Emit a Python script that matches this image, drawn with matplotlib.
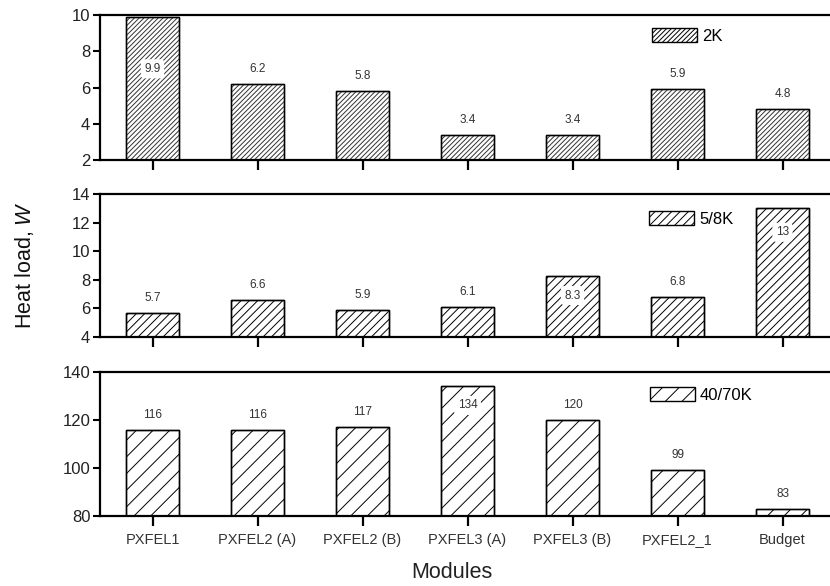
import matplotlib
matplotlib.use("Agg")
import matplotlib.pyplot as plt
from matplotlib.patches import Patch

plt.rcParams["font.family"] = ["Liberation Sans", "DejaVu Sans"]
plt.rcParams["mathtext.fontset"] = "custom"
plt.rcParams["mathtext.it"] = "Liberation Sans:italic"
plt.rcParams["mathtext.rm"] = "Liberation Sans"
plt.rcParams["hatch.linewidth"] = 0.7

# ---- data ----
modules = ["PXFEL1", "PXFEL2 (A)", "PXFEL2 (B)", "PXFEL3 (A)",
           "PXFEL3 (B)", "PXFEL2_1", "Budget"]
load_2k = [9.9, 6.2, 5.8, 3.4, 3.4, 5.9, 4.8]
load_5_8k = [5.7, 6.6, 5.9, 6.1, 8.3, 6.8, 13]
load_40_70k = [116, 116, 117, 134, 120, 99, 83]
labels_2k = ["9.9", "6.2", "5.8", "3.4", "3.4", "5.9", "4.8"]
labels_5_8k = ["5.7", "6.6", "5.9", "6.1", "8.3", "6.8", "13"]
labels_40_70k = ["116", "116", "117", "134", "120", "99", "83"]
series_names = ["2K", "5/8K", "40/70K"]
y_ticks = [[2, 4, 6, 8, 10], [4, 6, 8, 10, 12, 14], [80, 100, 120, 140]]

# ---- layout / style ----
W, H = 830, 586
panels = [  # (top px, bottom px)
    (15, 160), (194, 337), (372, 516)]
hatches = ["///////", "////", "//"]
hatch_colors = ["#333333", "black", "black"]
ylims = [(2, 10), (4, 14), (80, 140)]
# label offsets in pixels from bar top (positive = above)
label_offsets = [
    [-52, 15, 15, 15, 15, 15, 15],
    [15, 15, 15, 15, -20, 15, -24],
    [15, 15, 15, -19, 15, 15, 15],
]
legend_anchor = [(652, 36), (649, 219), (650, 395)]

fig = plt.figure(figsize=(W / 100, H / 100), dpi=100)
left_px, right_px = 100, 835

all_values = [load_2k, load_5_8k, load_40_70k]
all_labels = [labels_2k, labels_5_8k, labels_40_70k]
x = list(range(len(modules)))

for i, (top, bot) in enumerate(panels):
    ax = fig.add_axes([left_px / W, 1 - bot / H,
                       (right_px - left_px) / W, (bot - top) / H])
    ymin, ymax = ylims[i]
    vals = all_values[i]
    bars = ax.bar(x, [v - ymin for v in vals], bottom=ymin, width=0.5,
                  color="white", edgecolor=hatch_colors[i], linewidth=1.0,
                  hatch=hatches[i], zorder=2)
    # outline drawn separately so the hatch colour can differ from it
    ax.bar(x, [v - ymin for v in vals], bottom=ymin, width=0.5,
           fill=False, edgecolor="black", linewidth=1.0, zorder=3)
    ax.set_xlim(-0.5, 6.5)
    ax.set_ylim(ymin, ymax)
    ax.set_yticks(y_ticks[i])
    ax.set_xticks(x)
    for s in ["left", "bottom", "top"]:
        ax.spines[s].set_linewidth(1.6)
    ax.spines["right"].set_visible(False)
    ax.tick_params(axis="y", direction="out", length=5, width=1.5,
                   labelsize=12, labelcolor="#222222", pad=2)
    ax.tick_params(axis="x", direction="out", length=7, width=1.6,
                   labelsize=10.5, labelcolor="#333333", pad=5)
    if i < 2:
        ax.set_xticklabels([])
    else:
        ax.set_xticklabels(modules)

    for xi, v, lab, off in zip(x, vals, all_labels[i], label_offsets[i]):
        kw = {}
        if off < 0:
            kw["bbox"] = dict(boxstyle="round,pad=0.3", fc="white",
                              ec="none")
        ax.annotate(lab, (xi, v), xytext=(0, off * 0.72),
                    textcoords="offset points", ha="center", va="center",
                    fontsize=8.5, color="#333333", zorder=4, **kw)

    handle = Patch(facecolor="white", edgecolor="black", hatch=hatches[i],
                   linewidth=1.0)
    lx, ly = legend_anchor[i]
    fig.legend([handle], [series_names[i]], loc="center left",
               bbox_to_anchor=(lx / W, 1 - ly / H),
               bbox_transform=fig.transFigure, frameon=False,
               fontsize=12, borderpad=0, borderaxespad=0,
               handlelength=2.7, handleheight=0.85, handletextpad=0.3)

fig.text(25 / W, 1 - 265 / H, "Heat load, $W$", rotation=90,
         ha="center", va="center", fontsize=15.5, color="#111111")
fig.text(452 / W, 1 - 572 / H, "Modules", ha="center", va="center",
         fontsize=15.5, color="#222222")

fig.savefig("out.png", dpi=100)
